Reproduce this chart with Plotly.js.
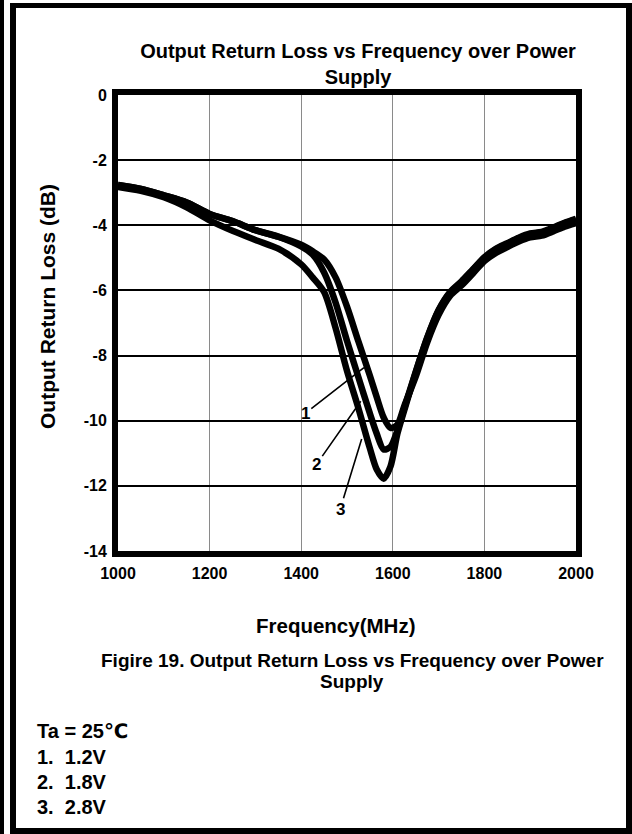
<!DOCTYPE html>
<html>
<head>
<meta charset="utf-8">
<script src="https://cdn.plot.ly/plotly-3.0.1.min.js"></script>
<style>
  html, body { margin: 0; padding: 0; background: #fff; }
  #wrap { position: relative; width: 632px; height: 834px; overflow: hidden; }
  #chart { position: absolute; left: 0; top: 0; width: 632px; height: 834px; }
  .frame { position: absolute; pointer-events: none; box-sizing: border-box; z-index: 5; }
</style>
</head>
<body>
<div id="wrap">
  <div id="chart"></div>
  <div class="frame" style="left:0;top:0;width:4px;height:834px;background:#000;"></div>
  <div class="frame" style="left:10px;top:3px;width:622px;height:831px;border-style:solid;border-color:#000;border-width:5px 6px 6px 6px;"></div>
</div>
<script>
// ---- data ----
const freq = [1000,1050,1100,1150,1200,1250,1300,1350,
              1400,1425,1450,1475,1500,1525,1550,1565,1580,1595,
              1610,1625,1650,1675,1700,1725,1750,1775,1800,1825,1850,1875,1900,1925,1950,1975,2000];
const loss12V = [-2.76,-2.88,-3.08,-3.30,-3.65,-3.87,-4.15,-4.35,
                 -4.60,-4.80,-5.05,-5.60,-6.50,-7.57,-8.62,-9.28,-9.90,-10.22,
                 -10.12,-9.55,-8.65,-7.60,-6.75,-6.17,-5.85,-5.48,-5.10,-4.85,-4.67,-4.50,-4.37,-4.32,-4.19,-4.04,-3.93];
const loss18V = [-2.76,-2.88,-3.08,-3.30,-3.65,-3.87,-4.15,-4.35,
                 -4.65,-4.90,-5.45,-6.37,-7.55,-8.67,-9.78,-10.40,-10.88,-10.80,
                 -10.30,-9.62,-8.50,-7.45,-6.60,-6.05,-5.72,-5.35,-4.98,-4.72,-4.55,-4.38,-4.25,-4.20,-4.07,-3.92,-3.80];
const loss28V = [-2.82,-2.94,-3.14,-3.45,-3.85,-4.17,-4.45,-4.72,
                 -5.20,-5.60,-6.05,-7.15,-8.47,-9.62,-10.85,-11.50,-11.78,-11.40,
                 -10.40,-9.68,-8.52,-7.47,-6.62,-6.07,-5.74,-5.37,-5.00,-4.74,-4.57,-4.40,-4.27,-4.22,-4.09,-3.94,-3.82];
const seriesNames = ['1', '2', '3'];
const xTickVals = [1000, 1200, 1400, 1600, 1800, 2000];
const xTickText = ['1000', '1200', '1400', '1600', '1800', '2000'];
const yTickVals = [0, -2, -4, -6, -8, -10, -12, -14];
const yTickText = ['0', '-2', '-4', '-6', '-8', '-10', '-12', '-14'];
const legendLines = ['Ta = 25\u2103', '1.\u00a0\u00a01.2V', '2.\u00a0\u00a01.8V', '3.\u00a0\u00a02.8V'];

// ---- layout ----
const W = 632, H = 834;
const M = {l: 118, r: 56, t: 95, b: 283};
const PW = W - M.l - M.r, PH = H - M.t - M.b;
const px = x => (x - M.l) / PW;           // pixel -> paper x
const py = y => (H - M.b - y) / PH;       // pixel -> paper y
const FONT = 'Liberation Sans, Arial, DejaVu Sans, Noto Sans CJK SC, sans-serif';
const bold = (size) => ({family: FONT, size: size, color: '#000', weight: 'bold'});

const lineStyle = {color: '#000', width: 6.5, shape: 'spline', smoothing: 0.8};
const traces = [loss12V, loss18V, loss28V].map((ys, i) => ({
  type: 'scatter', mode: 'lines', x: freq, y: ys, name: seriesNames[i],
  line: lineStyle, hoverinfo: 'skip'
}));

const labelPos = [
  {ax: 1409, ay: -9.77, x: 1537, y: -8.37},
  {ax: 1433, ay: -11.35, x: 1530, y: -9.40},
  {ax: 1485, ay: -12.72, x: 1532, y: -10.56}
];
const annotations = labelPos.map((p, i) => ({
  text: seriesNames[i], x: p.x, y: p.y, xref: 'x', yref: 'y',
  ax: p.ax, ay: p.ay, axref: 'x', ayref: 'y',
  showarrow: true, arrowhead: 0, arrowwidth: 1.6, arrowcolor: '#000',
  standoff: 0, startstandoff: 0, font: bold(17)
}));

annotations.push({
  text: 'Frequency(MHz)', xref: 'paper', yref: 'paper', x: px(335), y: py(625),
  xanchor: 'center', yanchor: 'middle', showarrow: false, font: bold(20.5)
});
annotations.push({
  text: 'Output Return Loss (dB)', xref: 'paper', yref: 'paper', x: px(47), y: py(307),
  xanchor: 'center', yanchor: 'middle', textangle: -90, showarrow: false, font: bold(21)
});
annotations.push({
  text: 'Figire 19. Output Return Loss vs Frequency over Power', xref: 'paper', yref: 'paper',
  x: px(352), y: py(660), xanchor: 'center', yanchor: 'middle', showarrow: false, font: bold(19)
});
annotations.push({
  text: 'Supply', xref: 'paper', yref: 'paper',
  x: px(352), y: py(681), xanchor: 'center', yanchor: 'middle', showarrow: false, font: bold(19)
});
const legendY = [731, 757, 782, 807];
legendLines.forEach((t, i) => annotations.push({
  text: t, xref: 'paper', yref: 'paper', x: px(35), y: py(legendY[i]),
  xanchor: 'left', yanchor: 'middle', showarrow: false, font: bold(20)
}));

const layout = {
  width: W, height: H,
  margin: {l: M.l, r: M.r, t: M.t, b: M.b, pad: 0},
  paper_bgcolor: '#fff', plot_bgcolor: '#fff',
  showlegend: false,
  title: {
    text: 'Output Return Loss vs Frequency over Power<br>Supply',
    font: bold(20), x: 358 / W, xref: 'container', xanchor: 'center',
    y: 1 - 58 / H, yref: 'container', yanchor: 'top'
  },
  xaxis: {
    range: [1000, 2000], tickvals: xTickVals, ticktext: xTickText, ticks: '',
    ticklabelstandoff: 3,
    showline: true, linewidth: 6, linecolor: '#000', mirror: true,
    showgrid: true, gridcolor: '#8a8a8a', gridwidth: 1, zeroline: false,
    tickfont: bold(16), fixedrange: true
  },
  yaxis: {
    range: [-14, 0], tickvals: yTickVals, ticktext: yTickText, ticks: '',
    ticklabelstandoff: 2,
    showline: true, linewidth: 6, linecolor: '#000', mirror: true,
    showgrid: true, gridcolor: '#000', gridwidth: 2, zeroline: false,
    tickfont: bold(16), fixedrange: true
  },
  annotations: annotations
};

Plotly.newPlot('chart', traces, layout, {staticPlot: true, displayModeBar: false});
</script>
</body>
</html>
